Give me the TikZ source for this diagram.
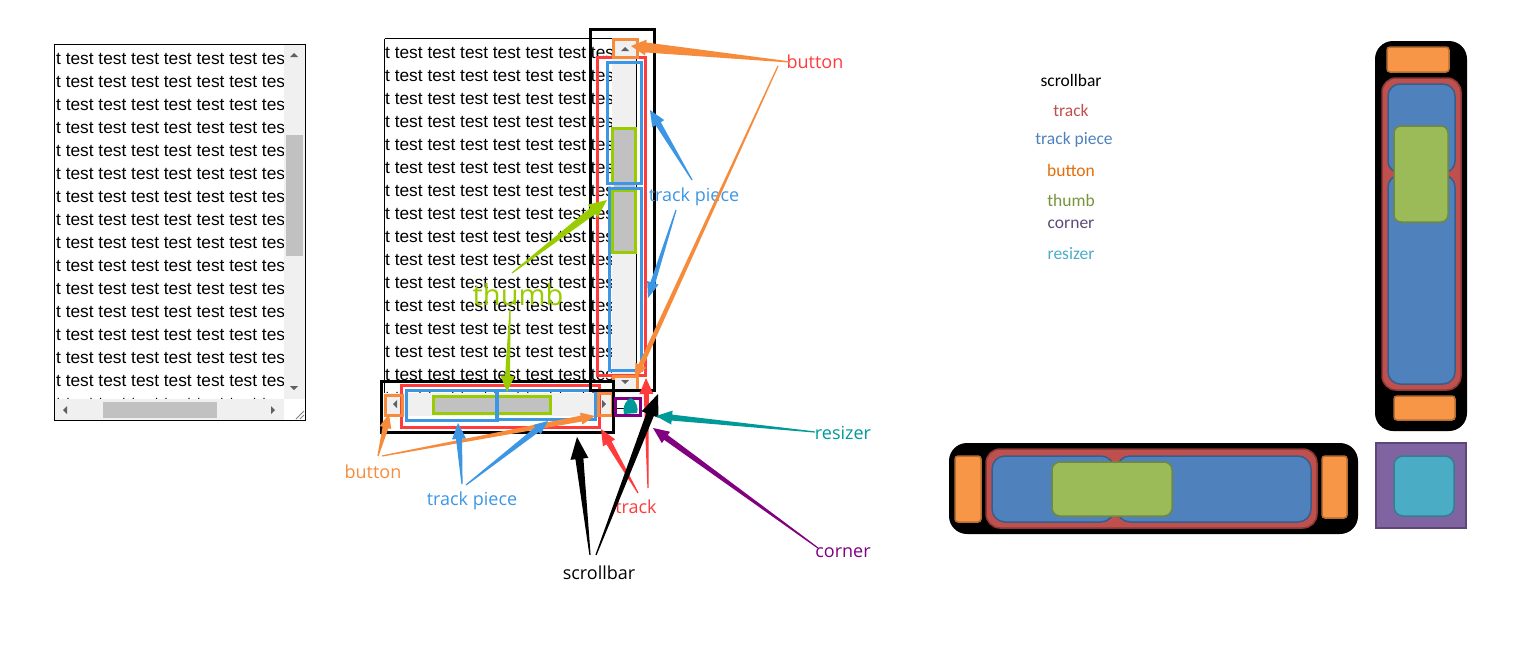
\documentclass[tikz,border=0pt]{standalone}
\usepackage{fontspec}
\setmainfont{Liberation Sans}
\newfontfamily\lblfont{Open Sans}
\newfontfamily\legfont{Carlito}
\usetikzlibrary{calc}
\definecolor{cOr}{HTML}{F68B3B}
\definecolor{cRed}{HTML}{FF3B3B}
\definecolor{cBlue}{HTML}{3C96E4}
\definecolor{cGreen}{HTML}{99CC00}
\definecolor{cTeal}{HTML}{009999}
\definecolor{cPurp}{HTML}{800080}
\definecolor{sbBg}{HTML}{F0F0F0}
\definecolor{sbThumb}{HTML}{C1C1C1}
\definecolor{sbArrow}{HTML}{606060}
\definecolor{lRed}{HTML}{C0504D}\definecolor{lRedD}{HTML}{8C3836}
\definecolor{lBlue}{HTML}{4F81BD}\definecolor{lBlueD}{HTML}{385D8A}
\definecolor{lOrange}{HTML}{F79646}\definecolor{lOrangeD}{HTML}{B66D31}
\definecolor{lOrangeT}{HTML}{E46C0A}
\definecolor{lGreen}{HTML}{9BBB59}\definecolor{lGreenD}{HTML}{71893F}
\definecolor{lGreenT}{HTML}{77933C}
\definecolor{lPurp}{HTML}{8064A2}\definecolor{lPurpD}{HTML}{5C4776}
\definecolor{lPurpT}{HTML}{5F497A}
\definecolor{lTeal}{HTML}{4BACC6}\definecolor{lTealD}{HTML}{357D91}
\newcommand{\tarr}[6]{%
  \path ($(#3)!#4!(#2)$) coordinate (hb);
  \fill[#1] ($(#2)!0.6pt!-90:(#3)$) -- ($(hb)!#6!90:(#2)$) -- ($(hb)!#5!90:(#2)$) -- (#3)
    -- ($(hb)!#5!-90:(#2)$) -- ($(hb)!#6!-90:(#2)$) -- ($(#2)!0.6pt!90:(#3)$) -- cycle;
}
\tikzset{
  txt/.style={anchor=west, inner sep=0pt, font=\fontsize{17.3}{20}\selectfont},
  hl/.style={draw=#1, line width=3pt},
  lbl/.style={inner sep=0pt, font=\lblfont\fontsize{18}{20}\selectfont},
  leg/.style={inner sep=0pt, font=\legfont\fontsize{17.5}{20}\selectfont},
  part/.style 2 args={fill=#1, draw=#2, line width=1.5pt},
}
\begin{document}
\begin{tikzpicture}[x=1pt,y=-1pt]
\useasboundingbox (0,0) rectangle (1533,653);
% ---------- textarea 1 ----------
\begin{scope}
  \clip (55,45) rectangle (284,399);
  \foreach \i in {0,...,15} \node[txt] (ta\i) at (56,{59+\i*23}) {t test test test test test test test};
\end{scope}
\fill[sbBg] (284,45) rectangle (305,399);
\fill[sbBg] (55,399) rectangle (284,420);
\fill[sbThumb] (286,135) rectangle (303,256);
\fill[sbThumb] (103,402) rectangle (217,418);
\fill[sbArrow] (290,57) -- (298,57) -- (294,53) -- cycle;
\fill[sbArrow] (290,386) -- (298,386) -- (294,390) -- cycle;
\fill[sbArrow] (67,406) -- (67,414) -- (63,410) -- cycle;
\fill[sbArrow] (271,406) -- (271,414) -- (275,410) -- cycle;
\fill[white] (284,399) rectangle (305,420);
\draw[gray, line width=0.8pt] (296,419) -- (304,411) (300,419) -- (304,415);
\draw[line width=1pt] (54.5,44.5) rectangle (305.5,420.5);
% ---------- textarea 2 ----------
\begin{scope}
  \clip (385,39) rectangle (612,393);
  \foreach \i in {0,...,15} \node[txt] (tb\i) at (385,{53+\i*23}) {t test test test test test test test};
\end{scope}
\fill[sbBg] (612,39) rectangle (636,393);
\fill[sbBg] (385,393) rectangle (612,416);
\fill[white] (612,393) rectangle (636,416);
\fill[sbThumb] (614,128) rectangle (635,252);
\fill[sbThumb] (433,396) rectangle (550,413);
\fill[sbArrow] (621,51) -- (629,51) -- (625,47) -- cycle;
\fill[sbArrow] (621,380) -- (629,380) -- (625,384) -- cycle;
\fill[sbArrow] (397,400) -- (397,408) -- (393,404) -- cycle;
\fill[sbArrow] (602,400) -- (602,408) -- (606,404) -- cycle;
\draw[line width=1pt] (636,57) -- (636,376);
\draw[line width=1pt] (384.5,38.5) -- (612,38.5) (384.5,38.5) -- (384.5,393);
\draw[line width=1pt] (616,408) -- (627,408);
% highlights
\draw[hl=cGreen] (612.5,128.5) rectangle (635.5,183);
\draw[hl=cGreen] (612.5,190) rectangle (635.5,252);
\draw[hl=cGreen] (433,396.5) rectangle (550,413);
\draw[hl=cBlue] (607.5,62.5) rectangle (641,183.5);
\draw[hl=cBlue] (609.5,188) rectangle (641,370);
\draw[hl=cBlue] (406,390.5) rectangle (497,420);
\draw[hl=cBlue] (496,390.5) rectangle (595,419);
\draw[hl=cRed] (597.5,57.5) rectangle (645,375.5);
\draw[hl=cRed] (401,385) rectangle (599,427);
\draw[hl=cOr] (613.5,39.5) rectangle (637,57);
\draw[hl=cOr] (613.5,376) rectangle (637,390);
\draw[hl=cOr] (385,395) rectangle (402,415);
\draw[hl=cOr] (598,393.5) rectangle (612,415);
\draw[hl=black] (590.5,29.5) rectangle (654,390);
\draw[hl=black] (381.5,381.5) rectangle (613,432);
\draw[hl=cPurp] (615.5,398.5) rectangle (640,415);
\fill[cTeal] (624,414) .. controls (622,406) and (627,399) .. (631,398) .. controls (636,400) and (639,409) .. (637,413) -- cycle;
% labels
\node[lbl, text=cRed] (lbtnA) at (815,62) {button};
\node[lbl, text=cBlue] (lpieceA) at (694,197) {track piece};
\node[lbl, text=cGreen, font=\lblfont\fontsize{29}{30}\selectfont] (lthumb) at (518,295) {thumb};
\node[lbl, text=cOr] (lbtnB) at (373,472) {button};
\node[lbl, text=cBlue] (lpieceB) at (472,501) {track piece};
\node[lbl, text=cRed] (ltrack) at (636,507) {track};
\node[lbl, text=black] (lsb) at (599,573) {scrollbar};
\node[lbl, text=cTeal] (lres) at (843,433) {resizer};
\node[lbl, text=cPurp] (lcor) at (843,553) {corner};
% arrow ends
\coordinate (a1s) at (790,62);  \coordinate (a1e) at (631,46);
\coordinate (a2s) at (778,66);  \coordinate (a2e) at (635,378);
\coordinate (a3s) at (692,180); \coordinate (a3e) at (650,110);
\coordinate (a4s) at (676,210); \coordinate (a4e) at (648,298);
\coordinate (a5s) at (512,273); \coordinate (a5e) at (607,200);
\coordinate (a6s) at (510,310); \coordinate (a6e) at (507,392);
\coordinate (a7s) at (378,456); \coordinate (a7e) at (389,414);
\coordinate (a8s) at (382,456); \coordinate (a8e) at (595,416);
\coordinate (a9s) at (462,484); \coordinate (a9e) at (458,423);
\coordinate (a10s) at (466,485); \coordinate (a10e) at (548,421);
\coordinate (a11s) at (638,493); \coordinate (a11e) at (601,429);
\coordinate (a12s) at (648,488); \coordinate (a12e) at (646,378);
\coordinate (a13s) at (590,555); \coordinate (a13e) at (577,437);
\coordinate (a14s) at (596,555); \coordinate (a14e) at (658,394);
\coordinate (a15s) at (815,432); \coordinate (a15e) at (656,416);
\coordinate (a16s) at (818,548); \coordinate (a16e) at (653,428);
\tarr{cOr}{a1s}{a1e}{15pt}{8pt}{5pt}
\tarr{cOr}{a2s}{a2e}{14pt}{6pt}{2.5pt}
\tarr{cBlue}{a3s}{a3e}{16pt}{7pt}{3pt}
\tarr{cBlue}{a4s}{a4e}{16pt}{6pt}{2.5pt}
\tarr{cGreen}{a5s}{a5e}{18pt}{8pt}{4pt}
\tarr{cGreen}{a6s}{a6e}{16pt}{7pt}{2.5pt}
\tarr{cOr}{a7s}{a7e}{14pt}{6pt}{3pt}
\tarr{cOr}{a8s}{a8e}{14pt}{6pt}{3pt}
\tarr{cBlue}{a9s}{a9e}{16pt}{7pt}{3pt}
\tarr{cBlue}{a10s}{a10e}{14pt}{6pt}{3pt}
\tarr{cRed}{a11s}{a11e}{16pt}{7pt}{3pt}
\tarr{cRed}{a12s}{a12e}{16pt}{7pt}{2.5pt}
\tarr{black}{a13s}{a13e}{22pt}{9pt}{4pt}
\tarr{black}{a14s}{a14e}{22pt}{9pt}{4pt}
\tarr{cTeal}{a15s}{a15e}{16pt}{7pt}{3pt}
\tarr{cPurp}{a16s}{a16e}{16pt}{7pt}{3pt}
% ---------- legend ----------
\node[leg, text=black] (g1) at (1071,80) {scrollbar};
\node[leg, text=lRed] (g2) at (1071,110) {track};
\node[leg, text=lBlue] (g3) at (1074,140) {track piece};
\node[leg, text=lOrangeT] (g4) at (1071,170) {button};
\node[leg, text=lGreenT] (g5) at (1071,200) {thumb};
\node[leg, text=lPurpT] (g6) at (1071,224) {corner};
\node[leg, text=lTeal] (g7) at (1071,254) {resizer};
% ---------- vertical schematic ----------
\fill[black, rounded corners=18pt] (1375,41) rectangle (1467,431);
\filldraw[part={lOrange}{lOrangeD}, rounded corners=3pt] (1387,47) rectangle (1449,72);
\filldraw[part={lRed}{lRedD}, rounded corners=14pt] (1382,78) rectangle (1461,390);
\filldraw[part={lBlue}{lBlueD}, rounded corners=12pt] (1388,84) rectangle (1455,173);
\filldraw[part={lBlue}{lBlueD}, rounded corners=12pt] (1388,175) rectangle (1455,384);
\filldraw[part={lGreen}{lGreenD}, rounded corners=7pt] (1394,126) rectangle (1448,222);
\filldraw[part={lOrange}{lOrangeD}, rounded corners=3pt] (1394,396) rectangle (1455,420);
% ---------- horizontal schematic ----------
\fill[black, rounded corners=18pt] (949,443) rectangle (1358,534);
\filldraw[part={lOrange}{lOrangeD}, rounded corners=3pt] (955,456) rectangle (981,522);
\filldraw[part={lRed}{lRedD}, rounded corners=14pt] (986,449) rectangle (1317,528);
\filldraw[part={lBlue}{lBlueD}, rounded corners=13pt] (992,456) rectangle (1114,522);
\filldraw[part={lBlue}{lBlueD}, rounded corners=13pt] (1117,456) rectangle (1311,522);
\filldraw[part={lGreen}{lGreenD}, rounded corners=8pt] (1052,462) rectangle (1172,516);
\filldraw[part={lOrange}{lOrangeD}, rounded corners=3pt] (1322,456) rectangle (1347,518);
% ---------- corner / resizer ----------
\filldraw[part={lPurp}{lPurpD}] (1376,443) rectangle (1466,528);
\filldraw[part={lTeal}{lTealD}, rounded corners=9pt] (1394,456) rectangle (1454,516);
\end{tikzpicture}
\end{document}
